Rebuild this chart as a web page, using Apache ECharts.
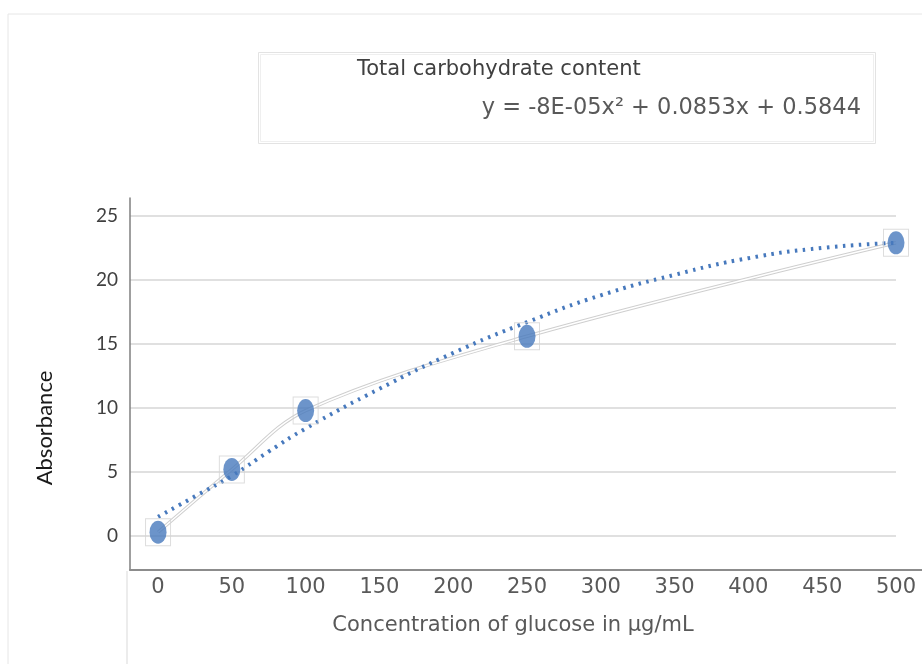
<!DOCTYPE html>
<html>
<head>
<meta charset="utf-8">
<script src="https://cdn.jsdelivr.net/npm/echarts@6/dist/echarts.min.js"></script>
<style>html,body{margin:0;padding:0;background:#fff}#c{width:922px;height:664px}</style>
</head>
<body>
<div id="c"></div>
<script>
// Measured data (concentration in µg/mL vs absorbance)
const concentrations = [0, 50, 100, 250, 500];
const absorbance = [0.3, 5.2, 9.8, 15.6, 22.9];
// Dotted polynomial trendline
const trendX = [0, 25, 50, 75, 100, 150, 200, 250, 300, 350, 400, 450, 500];
const trendY = [1.5, 3.1, 4.7, 6.6, 8.4, 11.5, 14.3, 16.7, 18.8, 20.4, 21.7, 22.5, 22.9];
// Tick labels
const xTicks = [0, 50, 100, 150, 200, 250, 300, 350, 400, 450, 500];
const yTicks = [0, 5, 10, 15, 20, 25];
const titleText = 'Total carbohydrate content';
const equationText = 'y = -8E-05x² + 0.0853x + 0.5844';
const xName = 'Concentration of glucose in µg/mL';
const yName = 'Absorbance';

const pts = concentrations.map((x, i) => [x, absorbance[i]]);
const trend = trendX.map((x, i) => [x, trendY[i]]);
const blue = '#4779bd';

const chart = echarts.init(document.getElementById('c'), null, {renderer: 'canvas'});
chart.setOption({
  animation: false,
  backgroundColor: '#ffffff',
  title: [
    {text: titleText, left: 352, top: 54,
     textStyle: {fontFamily: 'DejaVu Sans', fontSize: 21, fontWeight: 'normal', color: '#404040'}},
    {text: equationText, right: 56, top: 92,
     textStyle: {fontFamily: 'DejaVu Sans', fontSize: 22.5, fontWeight: 'normal', color: '#595959'}}
  ],
  grid: {left: 130, right: 26, top: 198, bottom: 94, containLabel: false},
  xAxis: {
    type: 'value', min: -19, max: 500,
    name: xName, nameLocation: 'middle', nameGap: 45,
    nameTextStyle: {fontFamily: 'DejaVu Sans', fontSize: 21, color: '#595959'},
    axisLine: {show: true, onZero: false, lineStyle: {color: '#8c8c8c', width: 2}},
    axisTick: {show: false, customValues: xTicks},
    axisLabel: {customValues: xTicks, margin: 7, fontFamily: 'DejaVu Sans', fontSize: 21, color: '#595959'},
    splitLine: {show: false}
  },
  yAxis: {
    type: 'value', min: -2.65, max: 26.4,
    axisLine: {show: true, onZero: false, lineStyle: {color: '#7f7f7f', width: 1.5}},
    axisTick: {show: false, customValues: yTicks},
    axisLabel: {customValues: yTicks, margin: 12, fontFamily: 'Lato', fontSize: 19, color: '#404040'},
    splitLine: {show: true, lineStyle: {color: '#d6d6d6', width: 1.5}}
  },
  graphic: [
    {type: 'line', shape: {x1: 8, y1: 14, x2: 922, y2: 14}, style: {stroke: '#e6e6e6', lineWidth: 1}, silent: true},
    {type: 'line', shape: {x1: 8, y1: 14, x2: 8, y2: 664}, style: {stroke: '#e6e6e6', lineWidth: 1}, silent: true},
    {type: 'line', shape: {x1: 127, y1: 571, x2: 127, y2: 664}, style: {stroke: '#d9d9d9', lineWidth: 1}, silent: true},
    {type: 'line', shape: {x1: 896, y1: 570, x2: 922, y2: 570}, style: {stroke: '#8c8c8c', lineWidth: 2}, silent: true},
    {type: 'rect', shape: {x: 258.5, y: 52.5, width: 617, height: 91}, style: {fill: 'none', stroke: '#e3e3e3', lineWidth: 1}, silent: true},
    {type: 'rect', shape: {x: 260.5, y: 54.5, width: 613, height: 87}, style: {fill: 'none', stroke: '#efefef', lineWidth: 1}, silent: true},
    {type: 'text', x: 45, y: 428, rotation: Math.PI / 2,
     style: {text: yName, align: 'center', verticalAlign: 'middle', fontFamily: 'Lato', fontSize: 22, fill: '#1a1a1a'}, silent: true}
  ],
  series: [
    {type: 'line', data: pts, smooth: 0.35, symbol: 'none', z: 2,
     lineStyle: {color: '#cfcfcf', width: 3.5}},
    {type: 'line', data: pts, smooth: 0.35, symbol: 'none', z: 3,
     lineStyle: {color: '#ffffff', width: 1.5}},
    {type: 'line', data: trend, smooth: true, symbol: 'none', z: 4,
     lineStyle: {color: blue, width: 4, type: [2.5, 5.5], cap: 'butt'}},
    {type: 'scatter', data: pts, symbol: 'rect', symbolSize: [25, 27], z: 5,
     itemStyle: {color: 'rgba(255,255,255,0)', borderColor: '#d3d3d3', borderWidth: 1}},
    {type: 'scatter', data: pts, symbol: 'circle', symbolSize: [17, 23], z: 6,
     itemStyle: {color: blue}}
  ]
});
</script>
</body>
</html>
